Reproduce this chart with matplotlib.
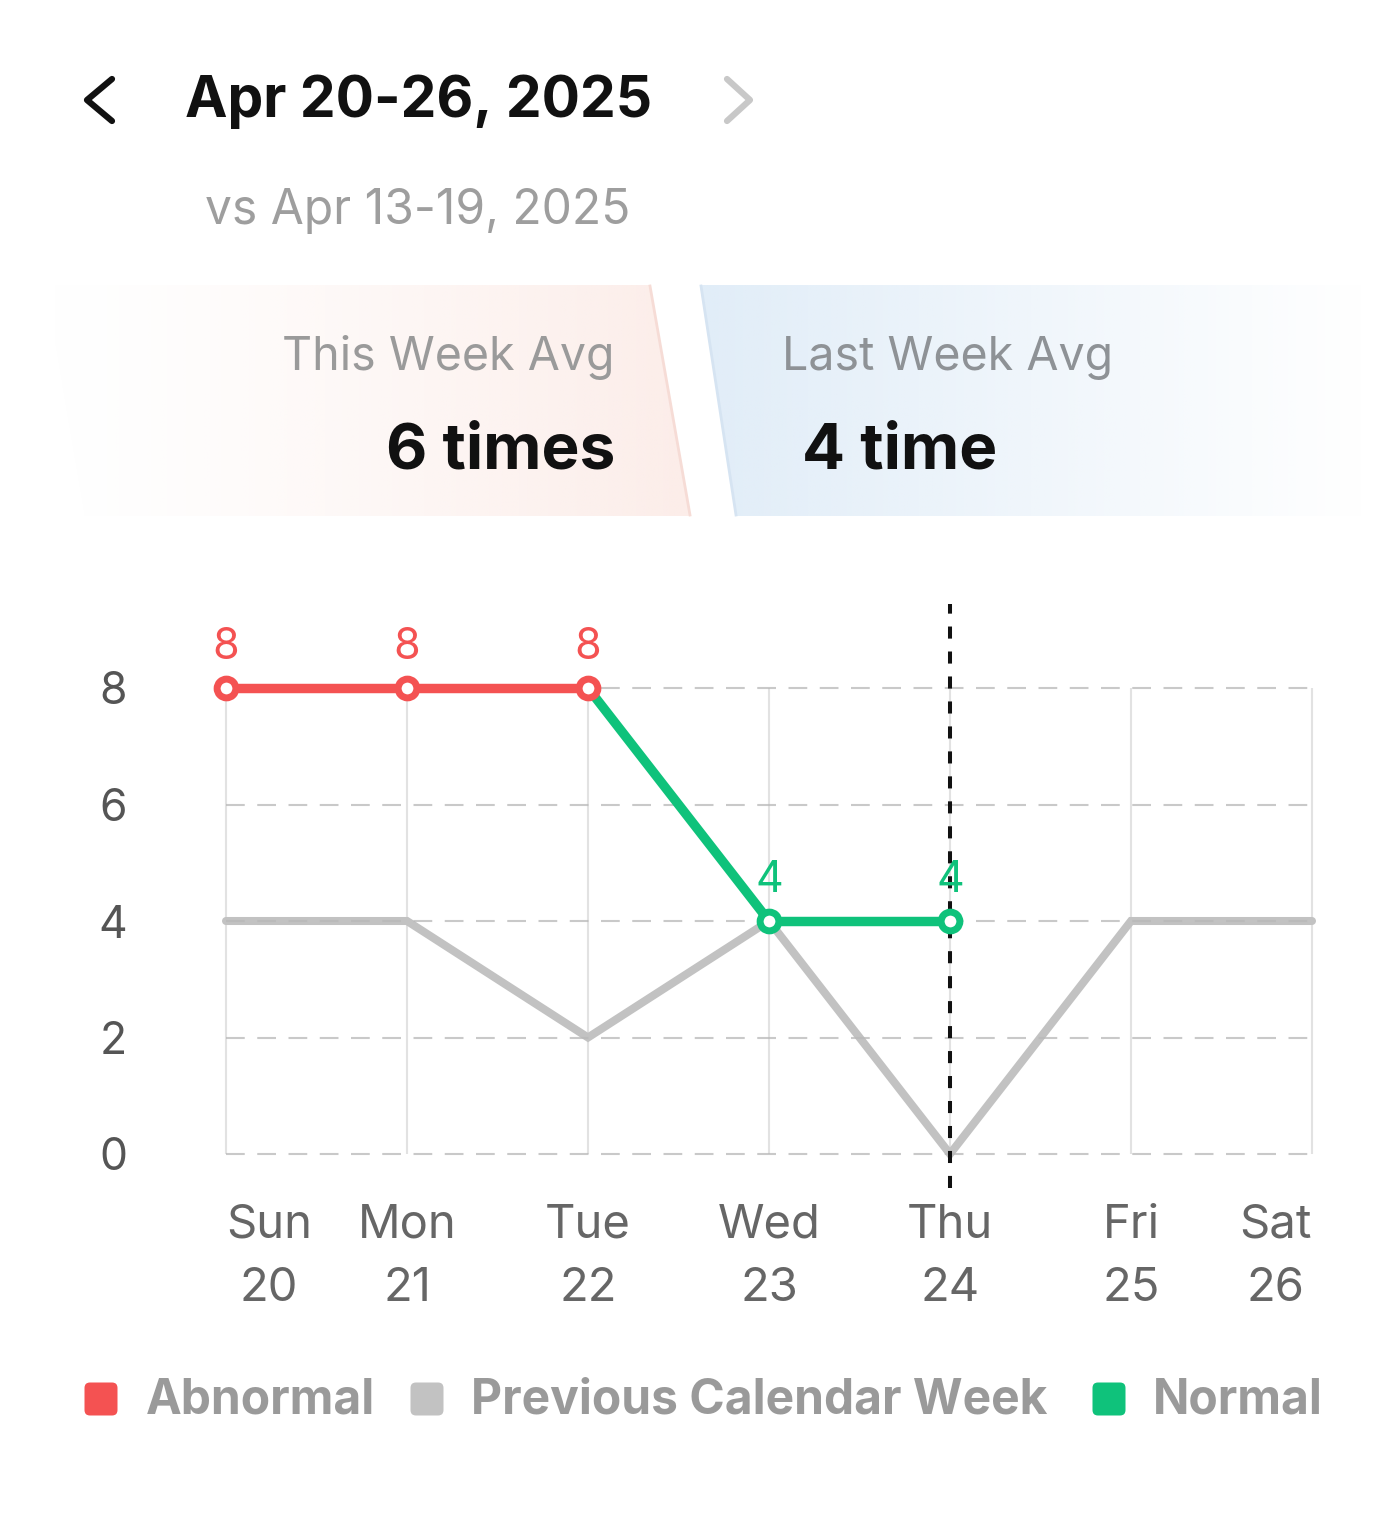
import numpy as np
import matplotlib
matplotlib.use("Agg")
import matplotlib.pyplot as plt
from matplotlib.patches import Polygon, FancyBboxPatch

plt.rcParams['font.family'] = ['Inter', 'DejaVu Sans']

# ---------------- data ----------------
days = ["Sun", "Mon", "Tue", "Wed", "Thu", "Fri", "Sat"]
dates = ["20", "21", "22", "23", "24", "25", "26"]
this_week = [8, 8, 8, 4, 4]
this_status = ["Abnormal", "Abnormal", "Abnormal", "Normal", "Normal"]
prev_week = [4, 4, 2, 4, 0, 4, 4]
yticks = [0, 2, 4, 6, 8]
today_idx = 4
title = "Apr 20-26, 2025"
subtitle = "vs Apr 13-19, 2025"
this_avg_label, this_avg_value = "This Week Avg", "6 times"
last_avg_label, last_avg_value = "Last Week Avg", "4 time"
legend_labels = ["Abnormal", "Previous Calendar Week", "Normal"]

RED = "#F45252"
GREEN = "#0FC27B"
GRAY = "#C2C2C2"
status_color = {"Abnormal": RED, "Normal": GREEN}

W, H = 1397, 1532
fig = plt.figure(figsize=(W / 100, H / 100), dpi=100)
fig.patch.set_facecolor("white")

# background / overlay axes in pixel coordinates
bg = fig.add_axes([0, 0, 1, 1], zorder=0)
bg.set_axis_off()

# ---- header ----
bg.plot([112, 87, 112], [79, 100, 121], color="#111111", lw=4.5,
        solid_capstyle="round", solid_joinstyle="round")
bg.plot([727, 750, 727], [79, 100, 121], color="#C8C8C8", lw=4.5,
        solid_capstyle="round", solid_joinstyle="round")
bg.text(185, 102, title, fontsize=41, fontweight="bold", color="#111111",
        ha="left", va="center")
bg.text(205, 211, subtitle, fontsize=34.5, color="#9E9E9E", ha="left", va="center")

# ---- cards ----
def grad_card(poly, color, a0, a1, x0, x1):
    patch = Polygon(poly, closed=True, facecolor="none", edgecolor="none")
    bg.add_patch(patch)
    n = 256
    rgba = np.zeros((1, n, 4))
    rgba[..., :3] = matplotlib.colors.to_rgb(color)
    rgba[0, :, 3] = np.linspace(a0, a1, n) ** 1.3 if a1 > a0 else np.linspace(a0, a1, n)
    ys = [p[1] for p in poly]
    im = bg.imshow(rgba, extent=[x0, x1, max(ys), min(ys)], aspect="auto",
                   interpolation="bilinear", zorder=1)
    im.set_clip_path(patch)

left_poly = [(45, 285), (650, 285), (690, 516), (85, 516)]
right_poly = [(700, 285), (1365, 285), (1365, 516), (736, 516)]
grad_card(left_poly, "#FCEDE9", 0.0, 1.0, 45, 690)
grad_card(right_poly, "#E1EDF8", 1.0, 0.0, 700, 1365)
bg.plot([650, 690], [286, 515], color="#F6DCD6", lw=2, zorder=2)
bg.plot([701, 736], [286, 515], color="#D6E4F2", lw=2, zorder=2)

bg.text(615, 358, this_avg_label, fontsize=33.5, color="#9A9A9A", ha="right", va="center", zorder=3)
bg.text(615, 452, this_avg_value, fontsize=46, fontweight="bold", color="#111111", ha="right", va="center", zorder=3)
bg.text(782, 358, last_avg_label, fontsize=33.5, color="#8E9296", ha="left", va="center", zorder=3)
bg.text(802, 452, last_avg_value, fontsize=46, fontweight="bold", color="#111111", ha="left", va="center", zorder=3)

# ---- legend ----
leg_colors = [RED, GRAY, GREEN]
leg_sq_x = [101, 427, 1109]
leg_tx_x = [146, 471, 1153]
for c, sx, tx, lab in zip(leg_colors, leg_sq_x, leg_tx_x, legend_labels):
    bg.add_patch(FancyBboxPatch((sx - 11, 1388), 22, 22,
                                boxstyle="round,pad=5.5", facecolor=c, edgecolor="none", zorder=3))
    bg.text(tx, 1400, lab, fontsize=34.5, fontweight="bold", color="#9A9A9A",
            ha="left", va="center", zorder=3)

bg.set_xlim(0, W)
bg.set_ylim(H, 0)

# ---------------- chart axes ----------------
px_x0, px_dx = 226, 181.0     # pixel of x=0, px per unit
px_y0, px_dy = 1154, 58.25    # pixel of y=0, px per unit
ax_l, ax_r, ax_t, ax_b = 170, 1370, 604, 1188
ax = fig.add_axes([ax_l / W, 1 - ax_b / H, (ax_r - ax_l) / W, (ax_b - ax_t) / H], zorder=2)
ax.patch.set_alpha(0)
ax.set_xlim((ax_l - px_x0) / px_dx, (ax_r - px_x0) / px_dx)
ax.set_ylim(-(ax_b - px_y0) / px_dy, (px_y0 - ax_t) / px_dy)
for s in ax.spines.values():
    s.set_visible(False)

x_all = np.arange(len(days))
ax.vlines(x_all, 0, max(yticks), color="#E2E2E2", lw=1.5, zorder=1)
ax.plot(x_all, prev_week, color=GRAY, lw=5.8, zorder=2, solid_joinstyle="miter",
        solid_capstyle="round")
ax.hlines(yticks, 0, len(days) - 1, color="#B8B8B8", lw=1.5, alpha=0.75,
          linestyles=(0, (9, 6)), zorder=3)

ax.axvline(today_idx, color="#111111", lw=2.9, linestyle=(0, (3, 3.2)), zorder=4)

x_this = np.arange(len(this_week))
for i in range(1, len(this_week)):
    ax.plot(x_this[i - 1:i + 1], this_week[i - 1:i + 1],
            color=status_color[this_status[i]], lw=6.8, zorder=5,
            solid_capstyle="butt")
for xi, yi, st in zip(x_this, this_week, this_status):
    c = status_color[st]
    ax.plot(xi, yi, marker="o", ms=13.5, mfc="white", mec=c, mew=5.0, zorder=6)
    ax.annotate(str(yi), (xi, yi), xytext=(0, 21), textcoords="offset points",
                ha="center", va="baseline", fontsize=31, color=c, zorder=7)

ax.set_yticks(yticks)
ax.set_yticklabels([str(v) for v in yticks])
ax.set_xticks(x_all)
ax.set_xticklabels([f"{d}\n{n}" for d, n in zip(days, dates)], linespacing=1.55)
ax.tick_params(axis="y", length=0, labelsize=32, labelcolor="#555555", pad=31)
ax.tick_params(axis="x", length=0, labelsize=34, labelcolor="#666666", pad=11.5)
xt = ax.get_xticklabels()
xt[0].set_ha("left")
xt[-1].set_ha("right")
for t in xt:
    t.set_multialignment("center")

fig.savefig("out.png", dpi=100, facecolor="white")
